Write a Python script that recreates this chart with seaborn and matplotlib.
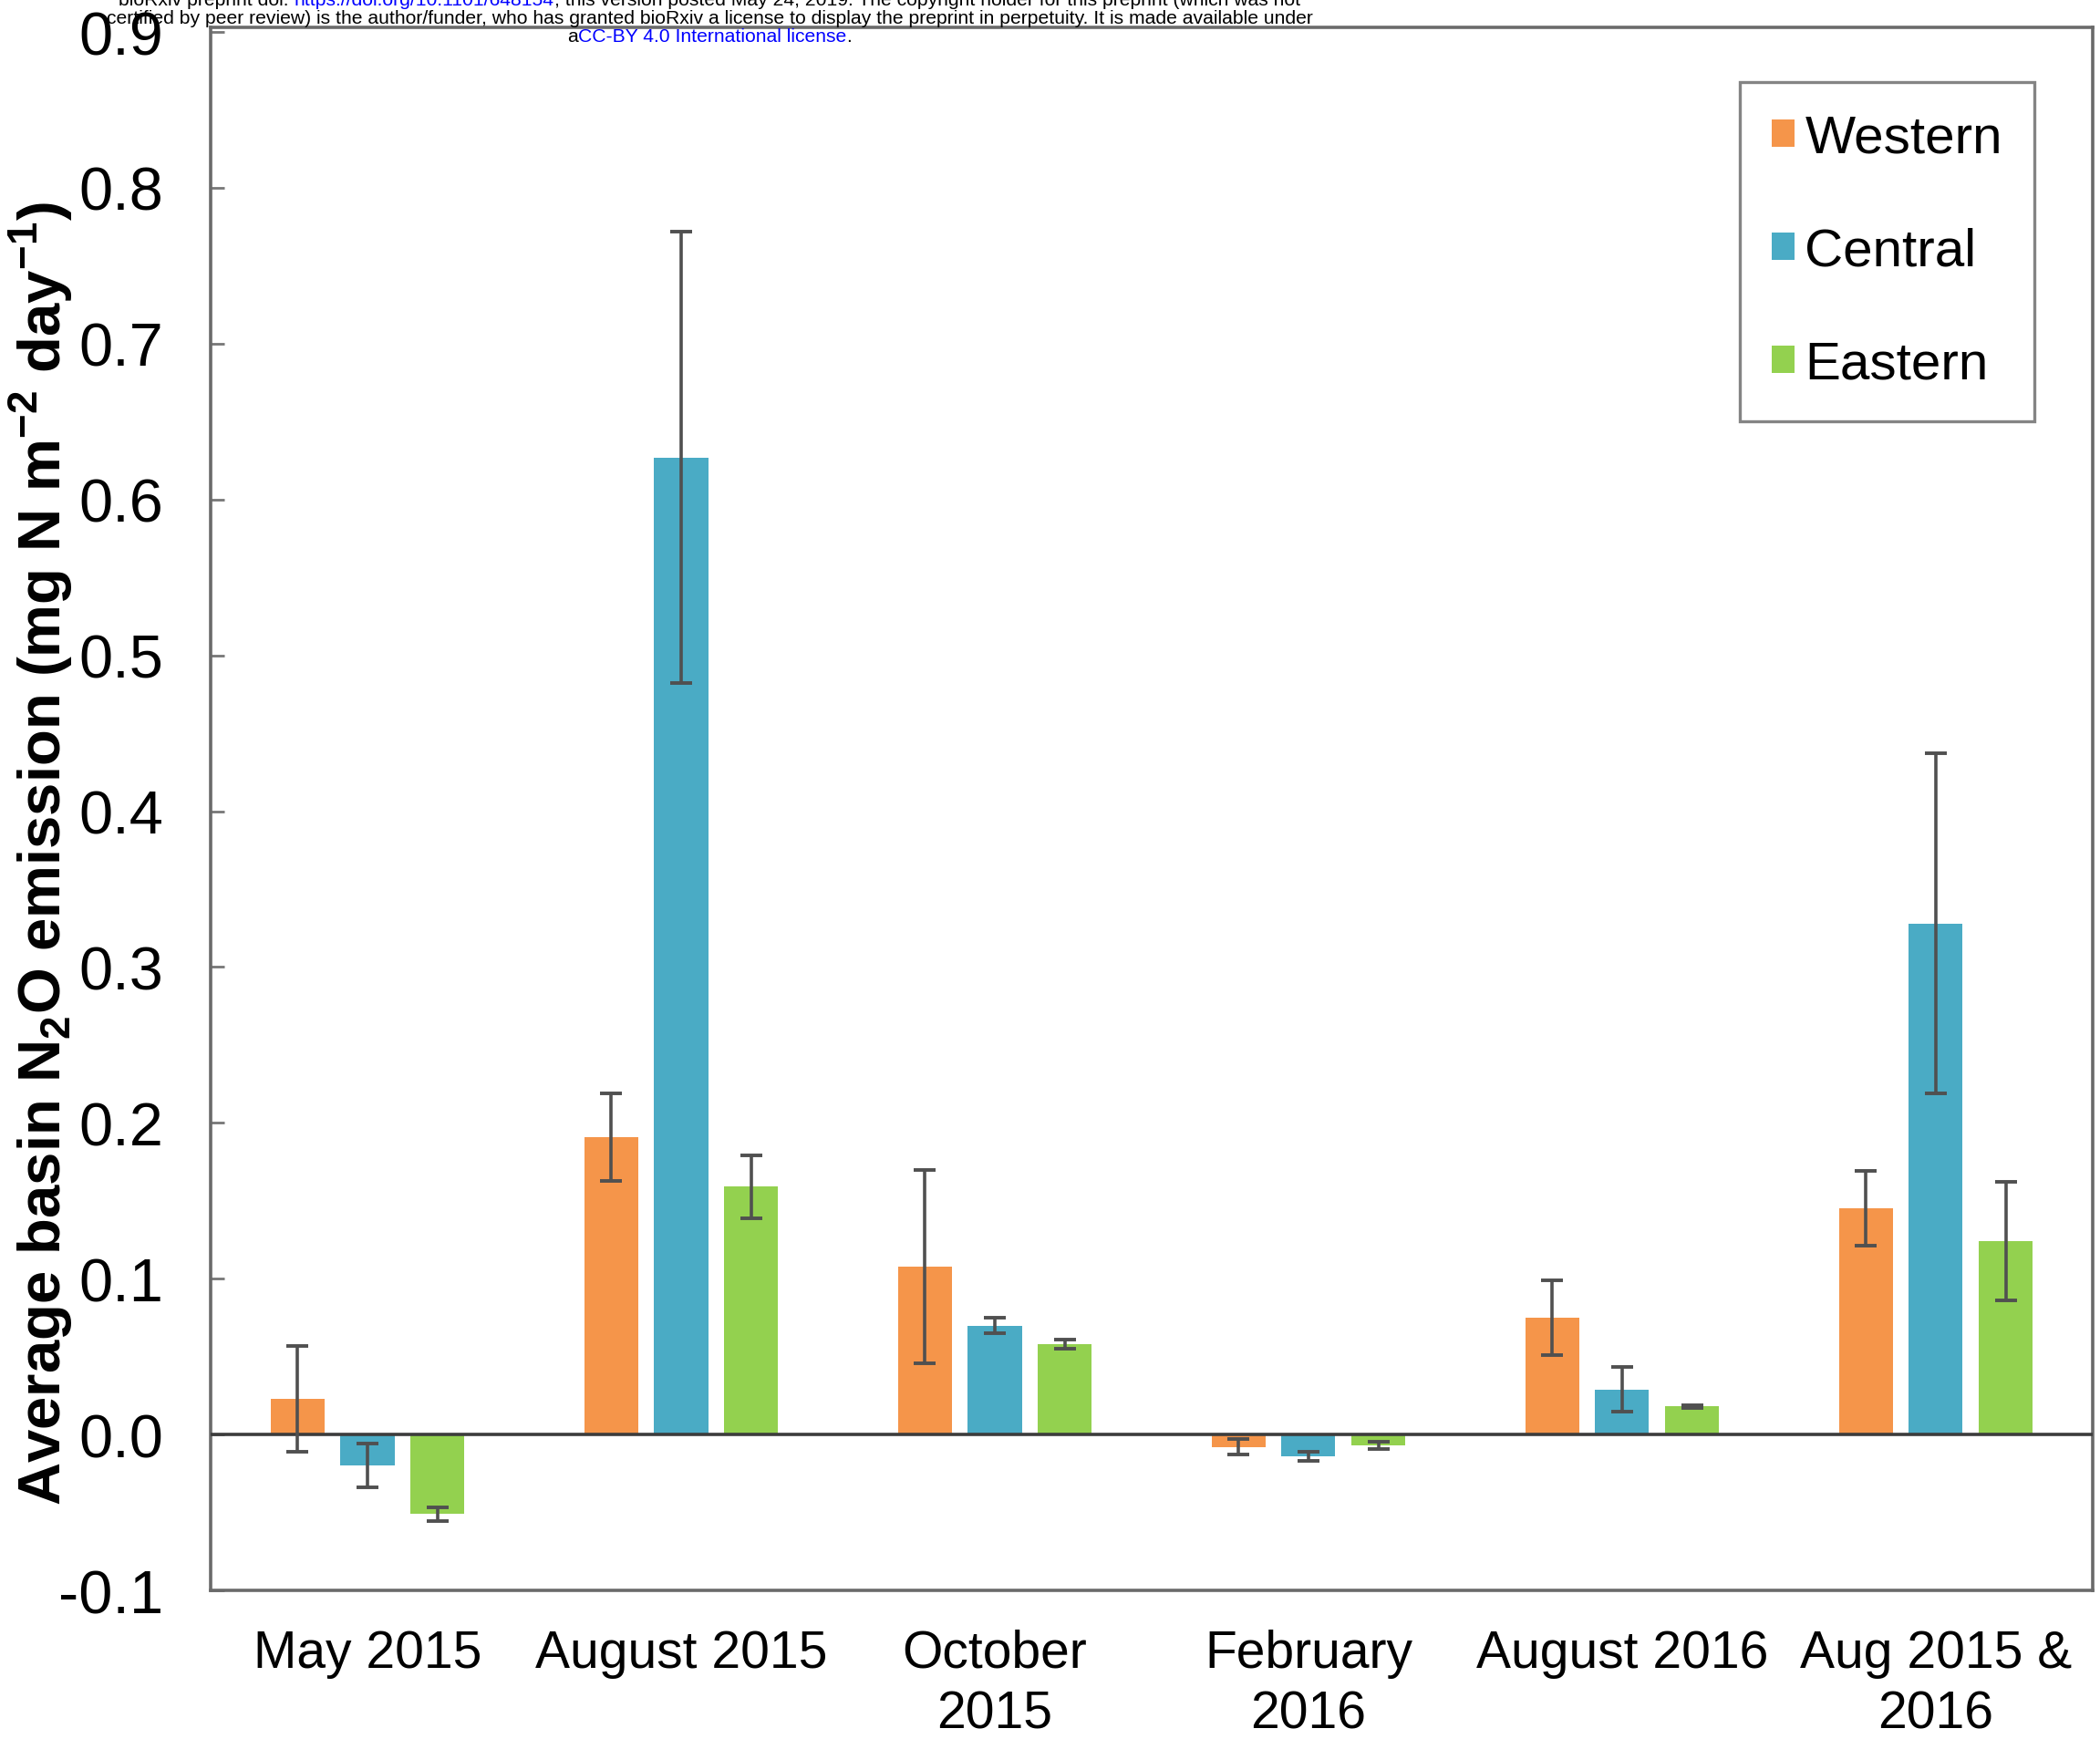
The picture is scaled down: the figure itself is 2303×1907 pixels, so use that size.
import matplotlib
matplotlib.use("Agg")
import matplotlib.pyplot as plt
import seaborn as sns
import pandas as pd

# ---- data -------------------------------------------------------------
periods = ["May 2015", "August 2015", "October\n2015", "February\n2016",
           "August 2016", "Aug 2015 &\n2016"]
regions = ["Western", "Central", "Eastern"]

western = [0.023, 0.191, 0.108, -0.008, 0.075, 0.145]
central = [-0.020, 0.627, 0.070, -0.014, 0.029, 0.328]
eastern = [-0.051, 0.159, 0.058, -0.007, 0.018, 0.124]

western_err = [0.034, 0.028, 0.062, 0.005, 0.024, 0.024]
central_err = [0.014, 0.145, 0.005, 0.003, 0.0145, 0.109]
eastern_err = [0.0045, 0.020, 0.003, 0.0025, 0.001, 0.038]

region_colors = ["#F5954A", "#4AABC5", "#93D14F"]

yticks = [-0.1, 0.0, 0.1, 0.2, 0.3, 0.4, 0.5, 0.6, 0.7, 0.8, 0.9]
ytick_labels = ["-0.1", "0.0", "0.1", "0.2", "0.3", "0.4", "0.5", "0.6",
                "0.7", "0.8", "0.9"]

values = {"Western": western, "Central": central, "Eastern": eastern}
errors = {"Western": western_err, "Central": central_err, "Eastern": eastern_err}

df = pd.DataFrame({
    "period": [p for r in regions for p in periods],
    "region": [r for r in regions for _ in periods],
    "emission": [v for r in regions for v in values[r]],
})

# ---- style ------------------------------------------------------------
sns.set_style("white")
plt.rcParams["font.family"] = ["Liberation Sans", "DejaVu Sans"]
plt.rcParams["mathtext.fontset"] = "custom"
plt.rcParams["mathtext.rm"] = "Liberation Sans"
plt.rcParams["mathtext.bf"] = "Liberation Sans:bold"
for key in ["text.color", "axes.labelcolor", "xtick.labelcolor", "ytick.labelcolor"]:
    plt.rcParams[key] = "black"

fig = plt.figure(figsize=(23.03, 19.08), dpi=100)
ax = fig.add_axes([0.1003, 0.0854, 0.8962, 0.8984])

sns.barplot(data=df, x="period", y="emission", hue="region",
            order=periods, hue_order=regions, palette=region_colors,
            width=0.669, gap=0.23, errorbar=None, saturation=1,
            linewidth=0, ax=ax, zorder=2)

# error bars centred on each bar
for container, region in zip(ax.containers, regions):
    xs = [p.get_x() + p.get_width() / 2 for p in container.patches]
    ax.errorbar(xs, values[region], yerr=errors[region], fmt="none",
                ecolor="#505050", elinewidth=2.6, capsize=8.5, capthick=2.8,
                zorder=4)

ax.axhline(0, color="#3c3c3c", lw=2.6, zorder=3)

ax.set_xlim(-0.5, 5.5)
ax.set_ylim(-0.1, 0.903)
ax.set_yticks(yticks)
ax.set_yticklabels(ytick_labels)
ax.set_xlabel("")
ax.set_ylabel(r"Average basin N$_\mathbf{2}$O emission (mg N m$^\mathbf{-2}$ day$^\mathbf{-1}$)",
              fontsize=47, fontweight="bold", color="black")
ax.yaxis.label.set_va("center")
ax.yaxis.set_label_coords(-0.090, 0.472)

ax.tick_params(axis="y", direction="in", length=11, width=2, color="#777777",
               labelsize=48, pad=37, left=True, labelcolor="black")
ax.tick_params(axis="x", length=0, labelsize=41, pad=30, labelcolor="black")
for lab in ax.get_xticklabels():
    lab.set_multialignment("center")
    lab.set_linespacing(1.3)

for side in ["left", "right", "top", "bottom"]:
    ax.spines[side].set_visible(True)
    ax.spines[side].set_color("#6a6a6a")
    ax.spines[side].set_linewidth(2.6)

handles, labels = ax.get_legend_handles_labels()
leg = ax.legend(handles, labels, loc="upper right",
                bbox_to_anchor=(0.969, 0.965), borderaxespad=0,
                fontsize=42, frameon=True, fancybox=False,
                handlelength=0.42, handleheight=0.42, handletextpad=0.2,
                labelspacing=1.2, borderpad=0.6)
leg.get_frame().set_edgecolor("#666666")
leg.get_frame().set_linewidth(2.4)
for t in leg.get_texts():
    t.set_color("black")

# ---- preprint notice at the top ---------------------------------------
renderer = fig.canvas.get_renderer()
header_size = 15.2


def text_width(s):
    t = fig.text(0, 0, s + ".", fontsize=header_size)
    w = t.get_window_extent(renderer).width
    t.remove()
    t2 = fig.text(0, 0, ".", fontsize=header_size)
    w -= t2.get_window_extent(renderer).width
    t2.remove()
    return w


def header_line(runs, xc, y):
    full = "".join(s for s, _ in runs)
    total = text_width(full)
    x0 = xc * fig.bbox.width - total / 2
    prefix = ""
    for s, c in runs:
        off = text_width(prefix) if prefix else 0
        fig.text((x0 + off) / fig.bbox.width, y, s, color=c,
                 fontsize=header_size, va="baseline", ha="left")
        prefix += s


blue = "#0000FF"
xc = 778 / 2303
header_line([("bioRxiv preprint doi: ", "black"),
             ("https://doi.org/10.1101/648154", blue),
             ("; this version posted May 24, 2019. The copyright holder for this preprint (which was not", "black")],
            xc, 1 - 6 / 1908)
header_line([("certified by peer review) is the author/funder, who has granted bioRxiv a license to display the preprint in perpetuity. It is made available under", "black")],
            xc, 1 - 26 / 1908)
header_line([("a", "black"), ("CC-BY 4.0 International license", blue), (".", "black")],
            xc, 1 - 46 / 1908)

fig.savefig("out.png", dpi=100)
